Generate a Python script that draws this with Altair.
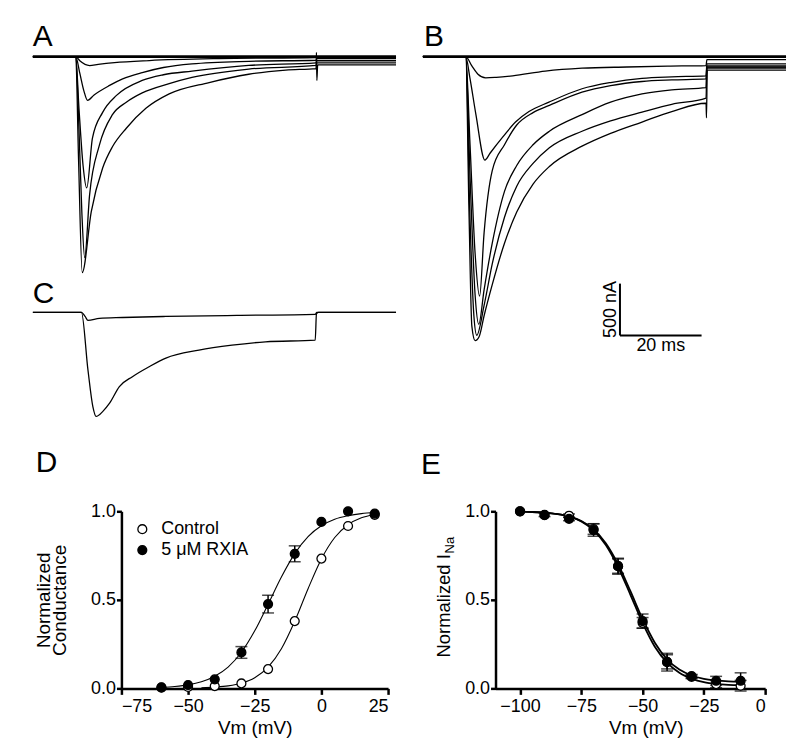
import altair as alt
import pandas as pd

FONT = "Liberation Sans"

# ---------------- Panels A-C : current traces, points are (time ms, current nA) ----------------
T_DOMAIN = [0, 89]

A_TRACE_1 = [(0, 0), (89, 0)]
A_TRACE_2 = [(0, 0), (10.5, 0), (11.5, -40), (13.9, -86), (16, -75), (20, -58), (28.5, -38), (45.6, -19),
             (69.4, -10), (69.6, -5), (89, -5)]
A_TRACE_3 = [(0, 0), (10.5, 0), (11.5, -160), (12.5, -330), (13.4, -422), (15, -370), (18.8, -278), (22, -215),
             (26.8, -154), (32, -105), (39, -70), (52.9, -45), (69.4, -35), (69.6, -20), (89, -20)]
A_TRACE_4 = [(0, 0), (10.5, 0), (11.3, -500), (12.3, -1050), (13.2, -1267), (14.6, -787), (17.1, -538),
             (20.5, -374), (26.8, -230), (32, -175), (39, -140), (52.9, -85), (69.4, -60), (69.6, -40), (89, -40)]
A_TRACE_5 = [(0, 0), (10.5, 0), (11.3, -700), (12.0, -1500), (12.7, -1939), (13.9, -1334), (16.3, -854),
             (19.5, -560), (22.9, -440), (26.8, -350), (33.4, -260), (39, -200), (52.9, -120), (69.4, -85),
             (69.6, -60), (89, -60)]
A_TRACE_6 = [(0, 0), (10.5, 0), (11.2, -1000), (12.1, -2083), (14.3, -1498), (17.1, -1075), (19.5, -870),
             (22.9, -691), (27.7, -499), (33.4, -360), (43.2, -250), (52.9, -170), (62, -130), (69.4, -115),
             (69.5, 40), (69.6, -230), (69.8, -80), (89, -80)]

B_TRACE_1 = [(0, 0), (89, 0)]
B_TRACE_2 = [(0, 0), (10.5, 0), (12, -90), (13.5, -170), (15.4, -205), (18, -200), (22, -185), (30, -140),
             (39, -112), (50, -100), (60, -92), (69.4, -86), (69.6, -30), (89, -30)]
B_TRACE_3 = [(0, 0), (10.5, 0), (11.5, -200), (13, -560), (15.2, -998), (16.5, -930), (19.5, -780),
             (22.7, -631), (26, -530), (30.9, -439), (39, -310), (46, -250), (53.7, -210), (61, -195),
             (69.4, -185), (69.6, -70), (89, -70)]
B_TRACE_4 = [(0, 0), (10.5, 0), (11.5, -800), (12.8, -1900), (13.9, -2311), (15, -1700), (17, -1100),
             (20, -850), (23, -660), (27, -540), (31, -470), (39, -343), (46, -280), (53.7, -240), (61, -225),
             (69.4, -215), (69.6, -90), (89, -90)]
B_TRACE_5 = [(0, 0), (10.5, 0), (11.6, -1200), (12.8, -2300), (13.7, -2582), (15, -2250), (17, -1800),
             (20, -1300), (23, -1050), (27, -850), (31, -720), (39, -560), (46, -440), (53.7, -360), (61, -320),
             (69.4, -300), (69.6, -100), (89, -100)]
B_TRACE_6 = [(0, 0), (10.5, 0), (11.5, -1500), (12.5, -2500), (13.2, -2688), (15, -2400), (17, -2000),
             (20, -1550), (23, -1250), (27, -1030), (31, -880), (39, -720), (46, -620), (53.7, -535), (61, -460),
             (69.4, -400), (69.6, -110), (89, -110)]
B_TRACE_7 = [(0, 0), (10.5, 0), (11.3, -1500), (12.0, -2600), (12.8, -2740), (13.8, -2700), (15, -2500),
             (17, -2200), (20, -1800), (23, -1500), (27, -1230), (31, -1060), (39, -864), (46, -740),
             (53.7, -631), (61, -530), (69.4, -450), (69.5, -590), (69.7, -130), (89, -130)]

C_TRACE_1 = [(0, 0), (11.9, 0), (12.8, -40), (13.5, -77), (16.3, -58), (22, -50), (32.6, -40), (50, -30),
             (69.2, -20), (69.6, 0), (89, 0)]
C_TRACE_2 = [(0, 0), (11.9, 0), (13.5, -557), (14.7, -910), (15.5, -1005), (17.1, -958), (18.8, -877),
             (21.2, -717), (24.4, -621), (28.5, -525), (32.6, -442), (40.7, -365), (48.8, -317), (57, -285),
             (69.2, -269), (69.5, -15), (70, 0), (89, 0)]

# scale bar: 20 ms x 500 nA
SCALEBAR_T = [48.3, 68.3]
SCALEBAR_I = [-2690, -2190]

# ---------------- Panel D : activation (normalized conductance) ----------------
D_CTRL_V = [-60, -50, -40, -30, -20, -10, 0, 10, 20]
D_CTRL_G = [0.004, 0.008, 0.013, 0.028, 0.109, 0.38, 0.733, 0.917, 0.98]
D_RXIA_V = [-60, -50, -40, -30, -20, -10, 0, 10, 20]
D_RXIA_G = [0.006, 0.019, 0.051, 0.203, 0.476, 0.76, 0.94, 1.0, 0.987]
D_RXIA_ERR = [0, 0, 0, 0.033, 0.05, 0.045, 0, 0, 0]

D_CTRL_FIT_V = [-45, -40, -35, -30, -25, -20, -15, -10, -5, 0, 5, 10, 15, 20]
D_CTRL_FIT_G = [0.003, 0.007, 0.014, 0.029, 0.060, 0.120, 0.224, 0.379, 0.563, 0.731, 0.852, 0.924, 0.963, 0.982]
D_RXIA_FIT_V = [-60, -55, -50, -45, -40, -35, -30, -25, -20, -15, -10, -5, 0, 5, 10, 15, 20]
D_RXIA_FIT_G = [0.006, 0.011, 0.020, 0.037, 0.068, 0.120, 0.204, 0.325, 0.475, 0.629, 0.761, 0.857, 0.918,
                0.955, 0.975, 0.987, 0.993]

# ---------------- Panel E : steady-state inactivation ----------------
E_V = [-100, -90, -80, -70, -60, -50, -40, -30, -20, -10]
E_CTRL = [1.0, 0.98, 0.975, 0.90, 0.69, 0.37, 0.15, 0.065, 0.024, 0.015]
E_CTRL_ERR = [0, 0.01, 0.01, 0.03, 0.04, 0.03, 0.04, 0.01, 0.02, 0.03]
E_RXIA = [1.0, 0.978, 0.957, 0.894, 0.69, 0.38, 0.148, 0.069, 0.043, 0.043]
E_RXIA_ERR = [0, 0, 0.01, 0.035, 0.045, 0.04, 0.05, 0.01, 0.025, 0.045]

E_FIT_V = [-100, -95, -90, -85, -80, -75, -70, -65, -60, -55, -50, -45, -40, -35, -30, -25, -20, -15, -10]
E_FIT_CTRL = [0.998, 0.996, 0.992, 0.984, 0.970, 0.943, 0.893, 0.810, 0.685, 0.530, 0.370, 0.235, 0.145,
              0.088, 0.055, 0.035, 0.025, 0.020, 0.018]
E_FIT_RXIA = [0.998, 0.996, 0.992, 0.985, 0.971, 0.945, 0.898, 0.820, 0.701, 0.550, 0.392, 0.258, 0.164,
              0.106, 0.073, 0.054, 0.045, 0.040, 0.038]

CTRL = "Control"
RXIA = "5 μM RXIA"

LABEL_FS = 18
TITLE_FS = 19


# ---------------- helpers ----------------
def traces_df(named):
    rows = []
    for name, pts in named.items():
        for k, (t, i) in enumerate(pts):
            rows.append({"trace": name, "k": k, "t": t, "i": i})
    return pd.DataFrame(rows)


def panel_label(text, px, py):
    return alt.Chart(pd.DataFrame({"s": [text]})).mark_text(
        align="left", baseline="alphabetic", fontSize=30, font=FONT, color="black"
    ).encode(x=alt.value(px), y=alt.value(py), text="s:N")


def trace_chart(df, ydom, height, label, null_name, extra=()):
    x = alt.X("t:Q", scale=alt.Scale(domain=T_DOMAIN, nice=False, zero=False), axis=None)
    y = alt.Y("i:Q", scale=alt.Scale(domain=ydom, nice=False, zero=False), axis=None)
    lines = alt.Chart(df).mark_line(color="black", interpolate="monotone").encode(
        x=x, y=y, detail="trace:N", order="k:Q",
        strokeWidth=alt.condition(f"datum.trace == '{null_name}'", alt.value(2.6), alt.value(1.3)),
    )
    return alt.layer(lines, *[e(x, y) for e in extra], label).properties(width=365, height=height)


dfA = traces_df({"A1": A_TRACE_1, "A2": A_TRACE_2, "A3": A_TRACE_3, "A4": A_TRACE_4,
                 "A5": A_TRACE_5, "A6": A_TRACE_6})
dfB = traces_df({"B1": B_TRACE_1, "B2": B_TRACE_2, "B3": B_TRACE_3, "B4": B_TRACE_4,
                 "B5": B_TRACE_5, "B6": B_TRACE_6, "B7": B_TRACE_7})
dfC = traces_df({"C1": C_TRACE_1, "C2": C_TRACE_2})

sb_v = pd.DataFrame({"t": [SCALEBAR_T[0]], "i": [SCALEBAR_I[0]], "i2": [SCALEBAR_I[1]]})
sb_h = pd.DataFrame({"t": [SCALEBAR_T[0]], "t2": [SCALEBAR_T[1]], "i": [SCALEBAR_I[0]]})
sb_tv = pd.DataFrame({"t": [SCALEBAR_T[0]], "i": [(SCALEBAR_I[0] + SCALEBAR_I[1]) / 2],
                      "s": [f"{SCALEBAR_I[1] - SCALEBAR_I[0]} nA"]})
sb_th = pd.DataFrame({"t": [(SCALEBAR_T[0] + SCALEBAR_T[1]) / 2], "i": [SCALEBAR_I[0]],
                      "s": [f"{SCALEBAR_T[1] - SCALEBAR_T[0]:.0f} ms"]})

scalebar = [
    lambda x, y: alt.Chart(sb_v).mark_rule(color="black", strokeWidth=2).encode(x=x, y=y, y2="i2:Q"),
    lambda x, y: alt.Chart(sb_h).mark_rule(color="black", strokeWidth=2).encode(x=x, x2="t2:Q", y=y),
    lambda x, y: alt.Chart(sb_tv).mark_text(angle=270, baseline="bottom", align="center", fontSize=18,
                                            font=FONT, color="black").encode(x=x, y=y, text="s:N"),
    lambda x, y: alt.Chart(sb_th).mark_text(baseline="top", align="center", fontSize=18, dy=2,
                                            font=FONT, color="black").encode(x=x, y=y, text="s:N"),
]

A = trace_chart(dfA, [-2131, 57.6], 228, panel_label("A", 0, -5), "A1")
C = trace_chart(dfC, [-1056, 38.4], 114, panel_label("C", 0, -5.5), "none")
B = trace_chart(dfB, [-2774, 57.6], 295, panel_label("B", 1, -5), "B1", extra=scalebar)

# ---------------- D ----------------
AX = dict(domainWidth=2.5, domainColor="black", tickColor="black", tickWidth=2.5, labelFontSize=LABEL_FS,
          titleFontSize=TITLE_FS, labelColor="black", titleColor="black", labelFont=FONT, titleFont=FONT,
          titleFontWeight="normal", grid=False)

d_pts = pd.concat([
    pd.DataFrame({"v": D_CTRL_V, "g": D_CTRL_G, "cond": CTRL}),
    pd.DataFrame({"v": D_RXIA_V, "g": D_RXIA_G, "cond": RXIA}),
], ignore_index=True)
d_err = pd.DataFrame({"v": D_RXIA_V, "lo": [g - e for g, e in zip(D_RXIA_G, D_RXIA_ERR)],
                      "hi": [g + e for g, e in zip(D_RXIA_G, D_RXIA_ERR)], "e": D_RXIA_ERR})
d_err = d_err[d_err.e > 0]
d_fit = pd.concat([
    pd.DataFrame({"v": D_CTRL_FIT_V, "g": D_CTRL_FIT_G, "cond": CTRL}),
    pd.DataFrame({"v": D_RXIA_FIT_V, "g": D_RXIA_FIT_G, "cond": RXIA}),
], ignore_index=True)

xD = alt.X("v:Q", scale=alt.Scale(domain=[-75, 25], nice=False, zero=False),
           axis=alt.Axis(values=[-75, -50, -25, 0, 25], title="Vm (mV)", tickSize=6, labelPadding=3,
                         titlePadding=3, **AX))
yD = alt.Y("g:Q", scale=alt.Scale(domain=[0, 1], nice=False),
           axis=alt.Axis(values=[0, 0.5, 1], format=".1f", title=["Normalized", "Conductance"],
                         titleLineHeight=16, tickSize=5, labelPadding=1, titlePadding=21, **AX))

fill_scale = alt.Scale(domain=[CTRL, RXIA], range=["white", "black"])

D = alt.layer(
    alt.Chart(d_fit).mark_line(color="black", strokeWidth=1.1, interpolate="monotone").encode(
        x=xD, y=yD, detail="cond:N"),
    alt.Chart(d_err).mark_rule(color="black", strokeWidth=1.5).encode(x=xD, y=alt.Y("lo:Q"), y2="hi:Q"),
    alt.Chart(d_err).mark_tick(color="black", thickness=1.5, size=12, orient="horizontal").encode(
        x=xD, y=alt.Y("lo:Q")),
    alt.Chart(d_err).mark_tick(color="black", thickness=1.5, size=12, orient="horizontal").encode(
        x=xD, y=alt.Y("hi:Q")),
    alt.Chart(d_pts).mark_point(shape="circle", filled=True, size=80, stroke="black", strokeWidth=1.3,
                                opacity=1).encode(
        x=xD, y=yD,
        fill=alt.Fill("cond:N", scale=fill_scale,
                      legend=alt.Legend(title=None, orient="none", legendX=12, legendY=9, labelFontSize=LABEL_FS,
                                        labelFont=FONT, labelColor="black", symbolSize=80,
                                        symbolStrokeColor="black", symbolStrokeWidth=1.3, labelOffset=10,
                                        rowPadding=3, symbolType="circle", padding=0)),
    ),
    panel_label("D", -86, -39),
).properties(width=268, height=178)

# ---------------- E ----------------
e_pts = pd.concat([
    pd.DataFrame({"v": E_V, "g": E_CTRL, "e": E_CTRL_ERR, "cond": CTRL}),
    pd.DataFrame({"v": E_V, "g": E_RXIA, "e": E_RXIA_ERR, "cond": RXIA}),
], ignore_index=True)
e_pts["lo"] = e_pts.g - e_pts.e
e_pts["hi"] = e_pts.g + e_pts.e
e_err = e_pts[e_pts.e > 0]
e_fit = pd.concat([
    pd.DataFrame({"v": E_FIT_V, "g": E_FIT_CTRL, "cond": CTRL}),
    pd.DataFrame({"v": E_FIT_V, "g": E_FIT_RXIA, "cond": RXIA}),
], ignore_index=True)

xE = alt.X("v:Q", scale=alt.Scale(domain=[-110, 0], nice=False, zero=False),
           axis=alt.Axis(values=[-100, -75, -50, -25, 0], title="Vm (mV)", tickSize=6, labelPadding=3,
                         titlePadding=3, titleX=151, **AX))
yE = alt.Y("g:Q", scale=alt.Scale(domain=[0, 1], nice=False),
           axis=alt.Axis(values=[0, 0.5, 1], format=".1f", title=None, tickSize=5, labelPadding=1, **AX))

e_title = pd.DataFrame({"s": ["Normalized I"]})
e_sub = pd.DataFrame({"s": ["Na"]})

E = alt.layer(
    alt.Chart(e_fit).mark_line(color="black", strokeWidth=1.8, interpolate="monotone").encode(
        x=xE, y=yE, detail="cond:N"),
    alt.Chart(e_err).mark_rule(color="black", strokeWidth=1.5).encode(x=xE, y=alt.Y("lo:Q"), y2="hi:Q"),
    alt.Chart(e_err).mark_tick(color="black", thickness=1.5, size=12, orient="horizontal").encode(
        x=xE, y=alt.Y("lo:Q")),
    alt.Chart(e_err).mark_tick(color="black", thickness=1.5, size=12, orient="horizontal").encode(
        x=xE, y=alt.Y("hi:Q")),
    alt.Chart(e_pts).mark_point(shape="circle", filled=True, size=80, stroke="black", strokeWidth=1.3,
                                opacity=1).encode(
        x=xE, y=yE, fill=alt.Fill("cond:N", scale=fill_scale, legend=None)),
    alt.Chart(e_title).mark_text(angle=270, baseline="alphabetic", align="center", fontSize=18.5, font=FONT,
                                 color="black").encode(x=alt.value(-46), y=alt.value(95), text="s:N"),
    alt.Chart(e_sub).mark_text(angle=270, baseline="alphabetic", align="center", fontSize=13, font=FONT,
                               color="black").encode(x=alt.value(-42), y=alt.value(34), text="s:N"),
    panel_label("E", -75, -37),
).properties(width=271, height=178)

spacer = alt.Chart(pd.DataFrame({"s": [""]})).mark_text().encode(
    x=alt.value(0), y=alt.value(0), text="s:N").properties(width=1, height=1)

left = alt.vconcat(A, C, spacing=1)
top = alt.hconcat(left, B, spacing=15)
de = alt.hconcat(D, E, spacing=31).resolve_scale(fill="independent").resolve_legend(fill="independent")
bottom = alt.hconcat(spacer, de, spacing=0).resolve_scale(fill="independent").resolve_legend(
    fill="independent")

chart = alt.vconcat(top, bottom, spacing=27).resolve_scale(fill="independent").resolve_legend(
    fill="independent").properties(
    padding={"left": 19, "top": 12, "right": 0, "bottom": 0}
).configure(font=FONT).configure_view(strokeOpacity=0)

chart.save("out.html", embed_options={"renderer": "svg", "actions": False})
